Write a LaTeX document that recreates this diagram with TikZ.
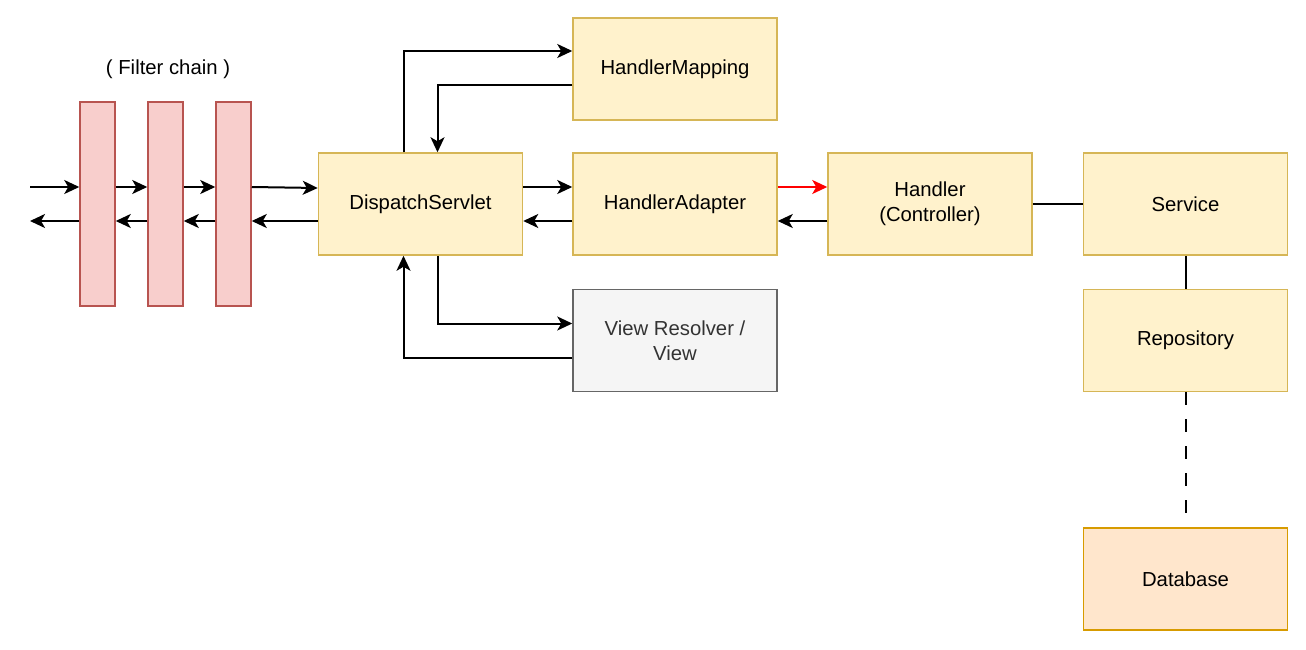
\documentclass[tikz,border=0pt]{standalone}
\usepackage{fontspec}
\setmainfont{Liberation Sans}
\usetikzlibrary{arrows.meta}
\definecolor{boxfill}{HTML}{FFF2CC}
\definecolor{boxline}{HTML}{D6B656}
\definecolor{filtfill}{HTML}{F8CECC}
\definecolor{filtline}{HTML}{B85450}
\definecolor{viewfill}{HTML}{F5F5F5}
\definecolor{viewline}{HTML}{666666}
\definecolor{viewtext}{HTML}{333333}
\definecolor{dbfill}{HTML}{FFE6CC}
\definecolor{dbline}{HTML}{D79B00}

\begin{document}
\begin{tikzpicture}[x=1pt,y=-1pt,
	box/.style={draw=boxline,fill=boxfill,line width=1.5pt,minimum width=204pt,minimum height=102pt,inner sep=0pt,align=center,font=\fontsize{20.3}{25}\selectfont},
	filt/.style={draw=filtline,fill=filtfill,line width=1.5pt,minimum width=35pt,minimum height=204pt,inner sep=0pt},
	arr/.style={line width=2pt,-{Stealth[length=15pt,width=14pt,inset=4pt]}}]
		\useasboundingbox (0,0) rectangle (1306,650);

		% filter chain
		\node[font=\fontsize{20.3}{25}\selectfont] (chain) at (168,69) {( Filter chain )};
		\foreach \i/\x in {1/97.5,2/165.5,3/233.5}
		\node[filt] (f\i) at (\x,204) {};
		\coordinate (in) at (30,187);
		\coordinate (out) at (30,221);

		% boxes
		\node[box] (ds) at (420.5,204) {DispatchServlet};
		\node[box] (hm) at (675,69) {HandlerMapping};
		\node[box] (ha) at (675,204) {HandlerAdapter};
		\node[box,draw=viewline,fill=viewfill,text=viewtext] (vr) at (675,340.5) {View Resolver /\\View};
		\node[box] (hd) at (930,204) {Handler\\(Controller)};
		\node[box] (sv) at (1185.5,204) {Service};
		\node[box] (rp) at (1185.5,340.5) {Repository};
		\node[box,draw=dbline,fill=dbfill] (db) at (1185.5,579) {Database};

		% request / response through the filters
		\draw[arr] (in) -- ([yshift=17pt]f1.west);
		\draw[arr] ([yshift=-17pt]f1.west) -- (out);
		\foreach \a/\b in {1/2,2/3} {
			\draw[arr] ([yshift=17pt]f\a.east) -- ([yshift=17pt]f\b.west);
			\draw[arr] ([yshift=-17pt]f\b.west) -- ([yshift=-17pt]f\a.east);
		}
		\draw[arr] ([yshift=17pt]f3.east) -- ([yshift=16pt]ds.west);
		\draw[arr] ([yshift=-17pt]ds.west) -- ([yshift=-17pt]f3.east);

		% dispatcher servlet <-> mapping, adapter, view
		\draw[arr] ([xshift=-17pt]ds.north) |- ([yshift=18pt]hm.west);
		\draw[arr] ([yshift=-16pt]hm.west) -| ([xshift=17pt]ds.north);
		\draw[arr] ([yshift=17pt]ds.east) -- ([yshift=17pt]ha.west);
		\draw[arr] ([yshift=-17pt]ha.west) -- ([yshift=-17pt]ds.east);
		\draw[arr] ([xshift=17pt]ds.south) |- ([yshift=17pt]vr.west);
		\draw[arr] ([yshift=-17pt]vr.west) -| ([xshift=-17pt]ds.south);

		% adapter <-> handler
		\draw[arr,red] ([yshift=17pt]ha.east) -- ([yshift=17pt]hd.west);
		\draw[arr] ([yshift=-17pt]hd.west) -- ([yshift=-17pt]ha.east);

		% service layers
		\draw[line width=2pt] (hd) -- (sv);
		\draw[line width=2pt] (sv) -- (rp);
		\draw[line width=2pt,dash pattern=on 13pt off 14pt] (rp) -- (db);
	    \end{tikzpicture}
\end{document}
